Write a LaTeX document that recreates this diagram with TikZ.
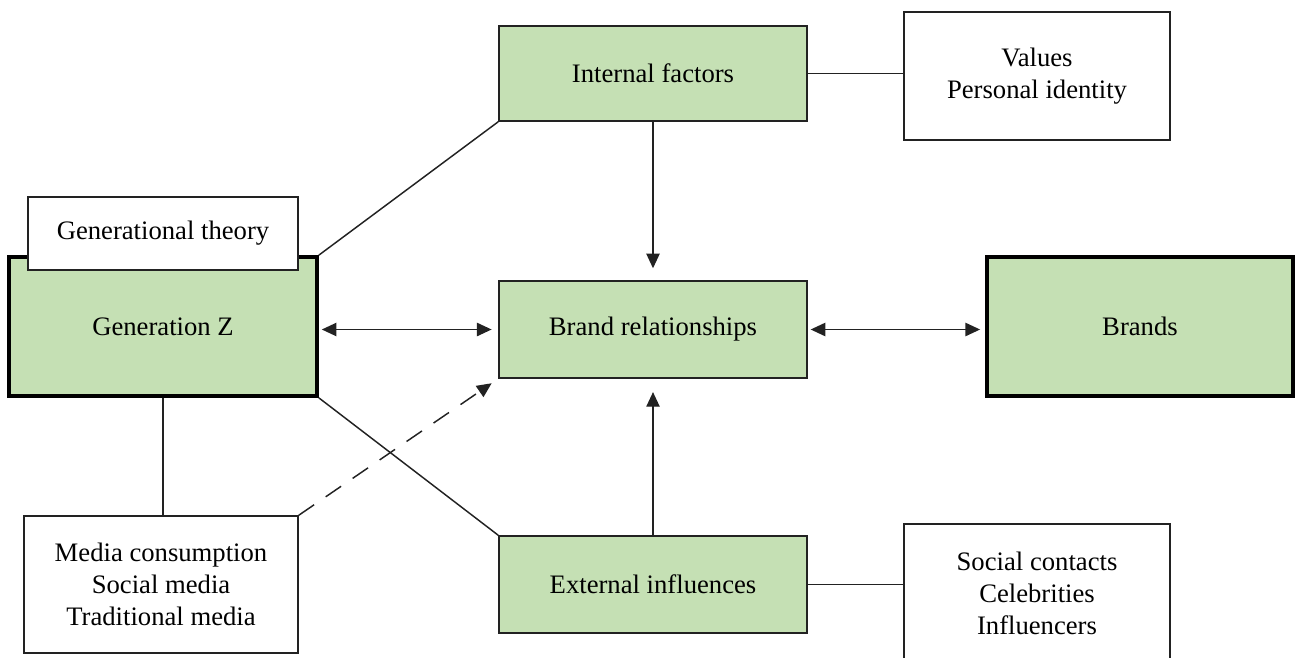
\documentclass[tikz,border=0pt]{standalone}
\usepackage{fontspec}
\setmainfont{Liberation Serif}[Scale=1.0]
\usetikzlibrary{arrows.meta}
\definecolor{boxgreen}{HTML}{C5E0B4}
\definecolor{linegray}{HTML}{222222}
\tikzset{
  px/.style={x=0.75pt,y=-0.75pt},
  box/.style={draw=linegray,line width=1.1pt,rectangle,inner sep=0pt,align=center,
    font=\rmfamily\fontsize{20}{24}\selectfont},
  greenbox/.style={box,fill=boxgreen},
  whitebox/.style={box,fill=white},
  thickbox/.style={line width=2.8pt,draw=black},
  conn/.style={draw=linegray,line width=1.1pt},
  tip/.style={-{Triangle[length=11pt,width=10pt]}},
  tips/.style={{Triangle[length=11pt,width=10pt]}-{Triangle[length=11pt,width=10pt]}},
}
\begin{document}
\begin{tikzpicture}[px]
\useasboundingbox (0,0) rectangle (1299,657);
\clip (0,0) rectangle (1299,657);
% nodes
\node[greenbox,minimum width=231pt,minimum height=71.25pt] (intf) at (653,73.5) {Internal factors};
\node[whitebox,minimum width=199.5pt,minimum height=96pt] (vals) at (1037,76) {Values\\Personal identity};
\node[greenbox,thickbox,minimum width=231pt,minimum height=104.25pt] (genz) at (163,326.5) {Generation Z};
\node[whitebox,minimum width=202.5pt,minimum height=54.75pt] (gent) at (163,233.5) {Generational theory};
\node[greenbox,minimum width=231pt,minimum height=72.75pt] (brel) at (653,329.5) {Brand relationships};
\node[greenbox,thickbox,minimum width=229.5pt,minimum height=104.25pt] (brands) at (1140,326.5) {Brands};
\node[whitebox,minimum width=205.5pt,minimum height=102.75pt] (media) at (161,584.5) {Media consumption\\Social media\\Traditional media};
\node[greenbox,minimum width=231pt,minimum height=72.75pt] (ext) at (653,584.5) {External influences};
\node[whitebox,minimum width=199.5pt,minimum height=103.5pt] (soc) at (1037,593) {Social contacts\\Celebrities\\Influencers};
% connectors
\draw[conn] (intf.south west) -- (genz.north east);
\draw[conn] (intf.east) -- (intf.east -| vals.west);
\draw[conn,tip,shorten >=9pt] (intf.south) -- (intf.south |- brel.north);
\draw[conn,tips,shorten <=2.2pt,shorten >=5pt] (genz.east |- brel.west) -- (brel.west);
\draw[conn,tips,shorten <=2.2pt,shorten >=3.8pt] (brel.east) -- (brel.east -| brands.west);
\draw[conn] (genz.south) -- (genz.south |- media.north);
\draw[conn] (genz.south east) -- (ext.north west);
\draw[conn,tip,dash pattern=on 14pt off 10.5pt,shorten >=6pt] (media.north east) -- (brel.south west);
\draw[conn,tip,shorten >=10pt] (ext.north) -- (ext.north |- brel.south);
\draw[conn] (ext.east) -- (ext.east -| soc.west);
\end{tikzpicture}
\end{document}
